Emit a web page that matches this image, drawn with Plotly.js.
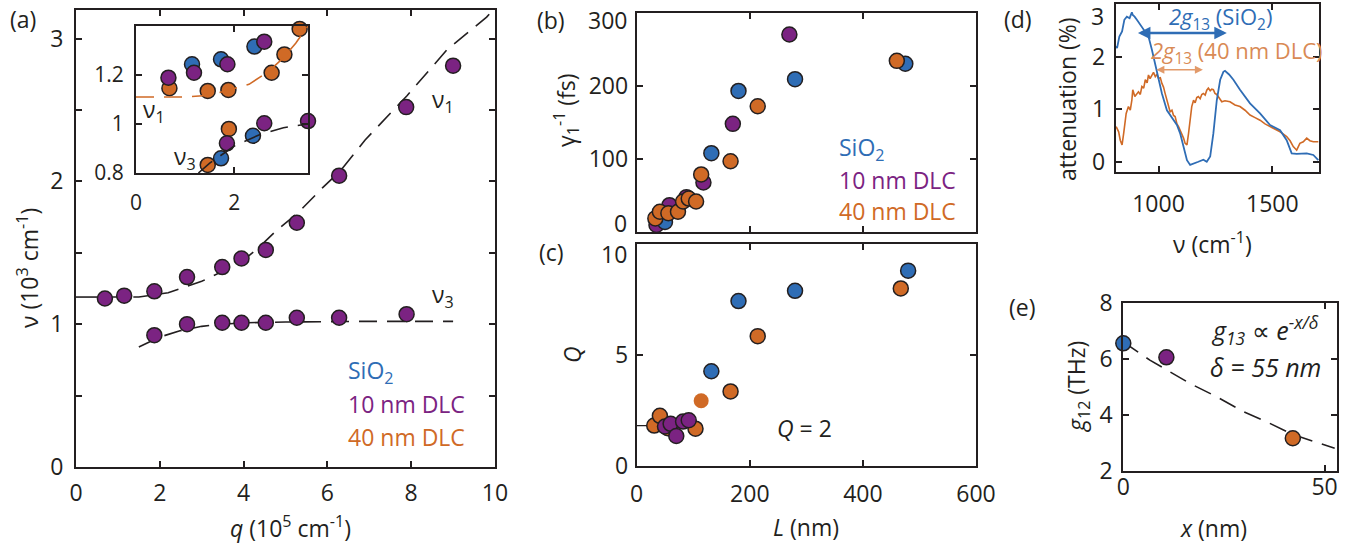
<!DOCTYPE html>
<html>
<head>
<meta charset="utf-8">
<script src="https://cdn.plot.ly/plotly-3.0.1.min.js"></script>
<style>html,body{margin:0;padding:0;background:#fff;}#chart{width:1360px;height:547px;}</style>
</head>
<body>
<div id="chart"></div>
<script>
// ---------- Panel (a): dispersion, 10 nm DLC (main) ----------
const qNu1 = [0.69, 1.15, 1.87, 2.65, 3.49, 3.95, 4.53, 5.27, 6.28, 7.88, 9.0];
const nu1 = [1.18, 1.20, 1.23, 1.33, 1.40, 1.46, 1.52, 1.71, 2.04, 2.52, 2.81];
const qNu3 = [1.87, 2.65, 3.49, 3.95, 4.53, 5.27, 6.28, 7.89];
const nu3 = [0.923, 1.0, 1.01, 1.01, 1.01, 1.045, 1.045, 1.07];
// fit lines
const fitQ1Solid = [0, 0.7];
const fitNu1Solid = [1.19, 1.19];
const fitQ1 = [0.7, 1.5, 2.2, 3.0, 3.5, 4.0, 4.3, 4.8, 5.3, 5.9, 6.3, 6.9, 7.9, 8.85, 9.8, 9.95];
const fitNu1 = [1.19, 1.19, 1.22, 1.30, 1.37, 1.45, 1.52, 1.66, 1.78, 1.96, 2.07, 2.29, 2.6, 2.92, 3.15, 3.2];
const fitQ3 = [1.5, 2.0, 2.5, 3.0, 3.5, 4.0, 5.0, 6.0, 7.0, 8.0, 9.0];
const fitNu3 = [0.84, 0.91, 0.955, 0.985, 1.0, 1.01, 1.015, 1.02, 1.02, 1.02, 1.02];

// ---------- Panel (a) inset ----------
const inQBlue1 = [1.14, 1.73, 2.41];
const inNuBlue1 = [1.244, 1.264, 1.316];
const inQBlue3 = [1.73, 2.38];
const inNuBlue3 = [0.86, 0.952];
const inQPur1 = [0.66, 1.18, 1.86, 2.61];
const inNuPur1 = [1.189, 1.209, 1.244, 1.336];
const inQPur3 = [1.85, 2.61, 3.5];
const inNuPur3 = [0.921, 1.003, 1.012];
const inQOr1 = [0.68, 1.46, 1.88, 2.76, 3.02, 3.33];
const inNuOr1 = [1.146, 1.135, 1.139, 1.209, 1.284, 1.388];
const inQOr3 = [1.46, 1.89];
const inNuOr3 = [0.833, 0.98];
const inFitQOr = [0, 0.4, 1.0, 1.5, 1.9, 2.3, 2.7, 3.0, 3.25, 3.5];
const inFitNuOr = [1.11, 1.11, 1.11, 1.117, 1.138, 1.162, 1.215, 1.27, 1.33, 1.40];
const inFitQ3 = [1.27, 1.5, 2.0, 2.5, 3.0, 3.5];
const inFitNu3 = [0.80, 0.84, 0.91, 0.955, 0.985, 1.0];

// ---------- Panel (b): gamma^-1 vs L ----------
const bLBlue = [50, 132, 180, 280, 475];
const bGBlue = [14, 108, 193, 209, 230];
const bLPur = [35, 50, 58, 88, 118, 170, 270];
const bGPur = [10, 20, 37, 48, 68, 148, 270];
const bLOr = [33, 41, 56, 73, 82, 92, 105, 114, 166, 214, 460];
const bGOr = [19, 28, 26, 28, 42, 46, 42, 79, 97, 172, 234];

// ---------- Panel (c): Q vs L ----------
const cLBlue = [132, 180, 280, 480];
const cQBlue = [4.27, 7.43, 7.89, 8.8];
const cLPur = [50, 60, 70, 82, 92];
const cQPur = [1.78, 1.9, 1.35, 2.0, 2.06];
const cLOr = [31, 41, 55, 104, 166, 214, 467];
const cQOr = [1.82, 2.26, 1.7, 1.68, 3.36, 5.85, 8.0];
const cLOrPale = [114];
const cQOrPale = [2.94];
const cRefL = [0, 35];
const cRefQ = [1.82, 1.82];

// ---------- Panel (d): attenuation spectra ----------
const dNuSiO2 = [814, 818, 828, 840, 850, 861, 873, 883, 887, 895, 905, 920, 934, 956, 971, 986, 1000, 1015, 1037, 1059, 1081, 1095, 1110, 1125, 1139, 1154, 1175, 1197, 1212, 1227, 1241, 1256, 1271, 1285, 1292, 1310, 1329, 1358, 1402, 1446, 1490, 1534, 1563, 1585, 1607, 1651, 1680, 1702];
const dAttSiO2 = [2.20, 2.16, 2.38, 2.48, 2.70, 2.76, 2.73, 2.84, 2.79, 2.76, 2.70, 2.60, 2.51, 2.38, 2.13, 1.84, 1.56, 1.30, 0.98, 0.83, 0.70, 0.54, 0.29, 0.03, -0.06, -0.03, 0.0, 0.04, 0.0, 0.1, 0.54, 1.17, 1.56, 1.71, 1.73, 1.66, 1.56, 1.37, 1.11, 0.92, 0.70, 0.60, 0.41, 0.16, 0.15, 0.16, 0.13, 0.03];
const dNuDLC = [814, 825, 832, 840, 847, 858, 868, 876, 883, 887, 896, 905, 912, 920, 927, 935, 942, 950, 956, 963, 971, 978, 986, 993, 1000, 1008, 1015, 1022, 1029, 1037, 1044, 1051, 1059, 1066, 1073, 1081, 1088, 1095, 1103, 1110, 1117, 1125, 1132, 1139, 1146, 1154, 1161, 1168, 1175, 1183, 1190, 1197, 1205, 1212, 1219, 1227, 1234, 1241, 1248, 1256, 1263, 1270, 1278, 1292, 1314, 1336, 1358, 1380, 1402, 1424, 1446, 1468, 1490, 1512, 1534, 1563, 1578, 1592, 1607, 1621, 1636, 1651, 1665, 1680, 1702];
const dAttDLC = [0.67, 0.57, 0.41, 0.32, 0.54, 0.92, 1.05, 0.98, 1.17, 1.37, 1.24, 1.30, 1.33, 1.28, 1.43, 1.40, 1.56, 1.50, 1.65, 1.58, 1.65, 1.70, 1.62, 1.66, 1.59, 1.60, 1.49, 1.42, 1.30, 1.15, 1.05, 0.95, 0.98, 0.88, 0.86, 0.72, 0.67, 0.60, 0.54, 0.45, 0.35, 0.32, 0.54, 0.86, 1.05, 1.17, 1.12, 1.22, 1.24, 1.20, 1.28, 1.30, 1.27, 1.36, 1.40, 1.35, 1.38, 1.37, 1.30, 1.28, 1.24, 1.18, 1.14, 1.16, 1.14, 1.08, 1.05, 0.98, 0.89, 0.84, 0.79, 0.72, 0.67, 0.62, 0.57, 0.48, 0.40, 0.29, 0.22, 0.35, 0.38, 0.45, 0.40, 0.38, 0.38];
const arrowSiO2 = [890, 1300, 2.45];   // from, to, level
const arrowDLC = [971, 1195, 1.75];

// ---------- Panel (e): g12 vs x ----------
const eXBlue = [0], eGBlue = [6.55];
const eXPur = [10.7], eGPur = [6.05];
const eXOr = [42.1], eGOr = [3.16];
const eFitX = [0, 6.6, 16.5, 23.2, 29.8, 36.4, 42, 52.5];
const eFitG = [6.6, 5.95, 5.12, 4.64, 4.11, 3.69, 3.3, 2.8];

// ---------- styles ----------
const BLUE = '#2f6db5', PURPLE = '#7b2382', ORANGE = '#d06a26', INK = '#231f20';
const FONT = '"Open Sans", "Noto Sans", sans-serif';
const W = 1360, H = 547;
const px = v => v / W, py = v => 1 - v / H;
const mk = c => ({size: 15, color: c, line: {color: INK, width: 1.5}});
const DASH = '18px,10px';

function pts(x, y, c, xa, ya, extra) {
  return Object.assign({type: 'scatter', mode: 'markers', x: x, y: y, marker: mk(c), xaxis: xa, yaxis: ya, cliponaxis: false, hoverinfo: 'skip'}, extra || {});
}
function ln(x, y, c, xa, ya, dash, w) {
  return {type: 'scatter', mode: 'lines', x: x, y: y, line: {color: c, width: w || 1.6, dash: dash || 'solid'}, xaxis: xa, yaxis: ya, hoverinfo: 'skip'};
}

const traces = [
  // (a) main
  ln(fitQ1Solid, fitNu1Solid, INK, 'x', 'y'),
  ln(fitQ1, fitNu1, INK, 'x', 'y', DASH),
  ln(fitQ3, fitNu3, INK, 'x', 'y', DASH),
  pts(qNu1, nu1, PURPLE, 'x', 'y'),
  pts(qNu3, nu3, PURPLE, 'x', 'y'),
  // (a) inset
  pts(inQBlue1, inNuBlue1, BLUE, 'x2', 'y2'),
  pts(inQBlue3, inNuBlue3, BLUE, 'x2', 'y2'),
  pts(inQOr1, inNuOr1, ORANGE, 'x2', 'y2'),
  pts(inQOr3, inNuOr3, ORANGE, 'x2', 'y2'),
  pts(inQPur1, inNuPur1, PURPLE, 'x2', 'y2'),
  pts(inQPur3, inNuPur3, PURPLE, 'x2', 'y2'),
  ln(inFitQOr, inFitNuOr, ORANGE, 'x2', 'y2', DASH),
  ln(inFitQ3, inFitNu3, INK, 'x2', 'y2', DASH),
  // (b)
  pts(bLPur, bGPur, PURPLE, 'x3', 'y3'),
  pts(bLBlue, bGBlue, BLUE, 'x3', 'y3'),
  pts(bLOr, bGOr, ORANGE, 'x3', 'y3'),
  // (c)
  ln(cRefL, cRefQ, INK, 'x4', 'y4', 'solid', 1.2),
  pts(cLOr, cQOr, ORANGE, 'x4', 'y4'),
  pts(cLOrPale, cQOrPale, ORANGE, 'x4', 'y4', {marker: {size: 15, color: ORANGE, line: {color: 'rgba(0,0,0,0)', width: 0}}}),
  pts(cLBlue, cQBlue, BLUE, 'x4', 'y4'),
  pts(cLPur, cQPur, PURPLE, 'x4', 'y4'),
  // (d)
  ln(dNuDLC, dAttDLC, ORANGE, 'x5', 'y5', 'solid', 1.6),
  ln(dNuSiO2, dAttSiO2, BLUE, 'x5', 'y5', 'solid', 1.8),
  // (e)
  ln(eFitX, eFitG, INK, 'x6', 'y6', DASH),
  pts(eXBlue, eGBlue, BLUE, 'x6', 'y6'),
  pts(eXPur, eGPur, PURPLE, 'x6', 'y6'),
  pts(eXOr, eGOr, ORANGE, 'x6', 'y6'),
];

function axis(dom, rng, tv, anchor, opts) {
  return Object.assign({
    domain: dom, range: rng, tickvals: tv, anchor: anchor,
    showline: true, linecolor: INK, linewidth: 2, mirror: 'ticks', ticks: 'inside',
    ticklen: 6, tickwidth: 2, tickcolor: INK, showgrid: false, zeroline: false,
    tickfont: {family: FONT, size: 23, color: INK}, fixedrange: true
  }, opts || {});
}
const MINOR = {ticks: 'inside', ticklen: 6, tickwidth: 2, tickcolor: INK, showgrid: false};

const layout = {
  width: W, height: H, margin: {l: 0, r: 0, t: 0, b: 0},
  paper_bgcolor: '#fff', plot_bgcolor: 'rgba(0,0,0,0)', showlegend: false,
  font: {family: FONT, size: 23, color: INK},
  xaxis: axis([px(76), px(495)], [0, 10], [0, 2, 4, 6, 8, 10], 'y', {ticklabelstandoff: 4}),
  yaxis: axis([py(467), py(10)], [0, 3.2], [0, 1, 2, 3], 'x', {ticklabelstandoff: 6, minor: Object.assign({tickvals: [0.5, 1.5, 2.5]}, MINOR)}),
  xaxis2: axis([px(136), px(308)], [0, 3.5], [0, 2], 'y2', {tickfont: {family: FONT, size: 21, color: INK}, ticklabelstandoff: 10}),
  yaxis2: axis([py(173), py(26)], [0.8, 1.4], [0.8, 1, 1.2], 'x2', {tickfont: {family: FONT, size: 21, color: INK}, ticklabelstandoff: 6}),
  xaxis3: axis([px(636.7), px(976)], [0, 600], [0, 200, 400, 600], 'y3', {showticklabels: false}),
  yaxis3: axis([py(232.3), py(12.5)], [0, 300], [100, 200], 'x3', {ticklabelstandoff: 2}),
  xaxis4: axis([px(636.7), px(976)], [0, 600], [0, 200, 400, 600], 'y4', {ticklabelstandoff: 6}),
  yaxis4: axis([py(466), py(244)], [0, 10], [0, 5], 'x4', {ticklabelstandoff: 2}),
  xaxis5: axis([px(1115.7), px(1319)], [812, 1705], [1000, 1500], 'y5', {ticklabelstandoff: 10}),
  yaxis5: axis([py(172.3), py(4)], [-0.2, 3.0], [0, 1, 2], 'x5', {ticklabelstandoff: 4}),
  xaxis6: axis([px(1123.3), px(1336.7)], [0, 53], [0, 50], 'y6', {ticklabelstandoff: -5}),
  yaxis6: axis([py(470.7), py(302.7)], [2, 8], [2, 4, 6, 8], 'x6', {ticklabelstandoff: 4}),
  annotations: []
};

function txt(x, y, t, o) {
  return Object.assign({xref: 'paper', yref: 'paper', x: px(x), y: py(y), text: t, showarrow: false,
    xanchor: 'center', yanchor: 'middle', font: {family: FONT, size: 23, color: INK}}, o || {});
}
const A = layout.annotations;
// edge tick labels (shifted inward as in the reference)
const edge = (x, y, t) => txt(x, y, t, {xanchor: 'right'});
A.push(edge(629, 20, '300'), edge(629, 223, '0'), edge(629, 254, '10'), edge(1106, 16, '3'));
// panel labels
A.push(txt(23, 19, '(a)'), txt(551, 20, '(b)'), txt(551, 252, '(c)'), txt(1018, 19, '(d)'), txt(1022, 307, '(e)'));
// axis titles
A.push(txt(28, 268, 'ν (10<sup>3</sup> cm<sup>-1</sup>)', {textangle: -90}));
A.push(txt(290, 527, '<i>q</i> (10<sup>5</sup> cm<sup>-1</sup>)'));
A.push(txt(566, 110, 'γ<sub>1</sub><sup>-1</sup> (fs)', {textangle: -90}));
A.push(txt(572, 355, '<i>Q</i>', {textangle: -90}));
A.push(txt(806, 527, '<i>L</i> (nm)'));
A.push(txt(1067, 99, 'attenuation (%)', {textangle: -90}));
A.push(txt(1212, 243, 'ν (cm<sup>-1</sup>)'));
A.push(txt(1077, 387, '<i>g</i><sub>12</sub> (THz)', {textangle: -90}));
A.push(txt(1213, 528, '<i>x</i> (nm)'));
// curve labels
A.push(txt(443, 101, 'ν<sub>1</sub>'), txt(443, 295, 'ν<sub>3</sub>'));
A.push(txt(154, 110, 'ν<sub>1</sub>'), txt(185, 157, 'ν<sub>3</sub>'));
// legends
const leg = (x, y, t, c) => txt(x, y, t, {xanchor: 'left', font: {family: FONT, size: 23, color: c}});
A.push(leg(346, 371, 'SiO<sub>2</sub>', BLUE), leg(346, 404, '10 nm DLC', PURPLE), leg(346, 437, '40 nm DLC', ORANGE));
A.push(leg(837, 148, 'SiO<sub>2</sub>', BLUE), leg(837, 180, '10 nm DLC', PURPLE), leg(837, 211, '40 nm DLC', ORANGE));
A.push(txt(804, 428, '<i>Q</i> = 2'));
// (d) annotations
A.push(txt(1220, 18, '<i>2g</i><sub>13</sub> (SiO<sub>2</sub>)', {font: {family: FONT, size: 22, color: BLUE}}));
A.push(txt(1237, 52, '<i>2g</i><sub>13</sub> (40 nm DLC)', {font: {family: FONT, size: 22, color: '#d98a55'}}));
A.push({xref: 'x5', yref: 'y5', axref: 'x5', ayref: 'y5', x: arrowSiO2[1], y: arrowSiO2[2], ax: arrowSiO2[0], ay: arrowSiO2[2],
  showarrow: true, arrowside: 'end+start', arrowhead: 2, arrowsize: 1, arrowwidth: 2.5, arrowcolor: BLUE, text: ' '});
A.push({xref: 'x5', yref: 'y5', axref: 'x5', ayref: 'y5', x: arrowDLC[1], y: arrowDLC[2], ax: arrowDLC[0], ay: arrowDLC[2],
  showarrow: true, arrowside: 'end+start', arrowhead: 2, arrowsize: 1, arrowwidth: 1.6, arrowcolor: 'rgba(220,130,70,0.8)', text: ' '});
// (e) text
A.push(txt(1265, 330, '<i>g</i><sub><i>13</i></sub> ∝ <i>e</i><sup><i>-x/δ</i></sup>', {font: {family: FONT, size: 25, color: INK}}));
A.push(txt(1265, 367, '<i>δ = 55 nm</i>', {font: {family: FONT, size: 25, color: INK}}));

Plotly.newPlot('chart', traces, layout, {staticPlot: true, displayModeBar: false});
</script>
</body>
</html>
